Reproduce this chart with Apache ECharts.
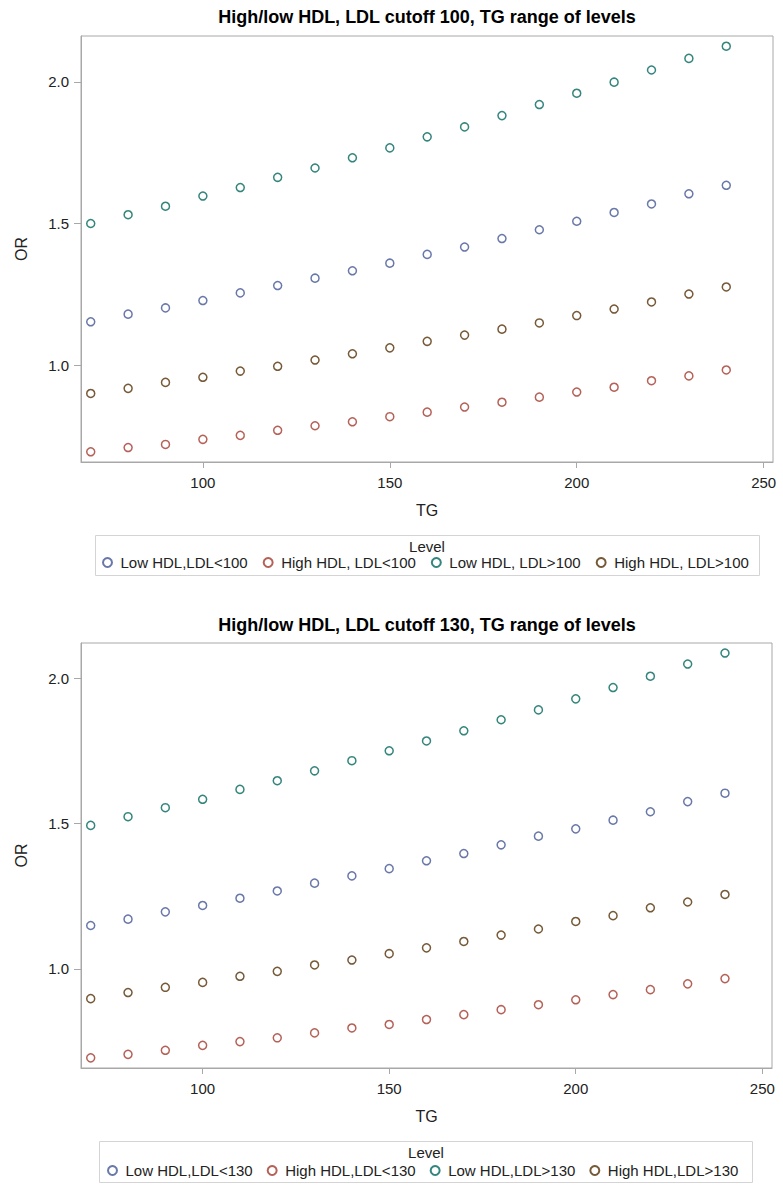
<!DOCTYPE html>
<html>
<head>
<meta charset="utf-8">
<script src="https://cdn.jsdelivr.net/npm/echarts@6/dist/echarts.min.js"></script>
<style>
html,body{margin:0;padding:0;background:#fff;}
#chart{width:783px;height:1186px;}
</style>
</head>
<body>
<div id="chart"></div>
<script>
// ---- data ----
const tg = [70, 80, 90, 100, 110, 120, 130, 140, 150, 160, 170, 180, 190, 200, 210, 220, 230, 240];

// Chart 1: LDL cutoff 100
const lowHdlLdlLt100  = [1.153, 1.180, 1.202, 1.228, 1.255, 1.281, 1.307, 1.333, 1.360, 1.391, 1.417, 1.447, 1.478, 1.508, 1.539, 1.569, 1.605, 1.635];
const highHdlLdlLt100 = [0.694, 0.709, 0.720, 0.738, 0.752, 0.770, 0.786, 0.800, 0.818, 0.834, 0.852, 0.869, 0.887, 0.905, 0.922, 0.945, 0.962, 0.983];
const lowHdlLdlGt100  = [1.500, 1.531, 1.561, 1.597, 1.627, 1.663, 1.696, 1.732, 1.767, 1.806, 1.841, 1.881, 1.920, 1.960, 1.999, 2.042, 2.083, 2.126];
const highHdlLdlGt100 = [0.900, 0.918, 0.939, 0.957, 0.979, 0.996, 1.018, 1.040, 1.061, 1.084, 1.106, 1.127, 1.149, 1.175, 1.198, 1.223, 1.251, 1.276];

// Chart 2: LDL cutoff 130
const lowHdlLdlLt130  = [1.149, 1.171, 1.196, 1.218, 1.243, 1.268, 1.295, 1.320, 1.345, 1.372, 1.397, 1.427, 1.457, 1.482, 1.512, 1.541, 1.576, 1.605];
const highHdlLdlLt130 = [0.693, 0.705, 0.719, 0.736, 0.749, 0.762, 0.779, 0.796, 0.808, 0.825, 0.842, 0.859, 0.876, 0.893, 0.911, 0.928, 0.948, 0.966];
const lowHdlLdlGt130  = [1.494, 1.524, 1.555, 1.584, 1.618, 1.648, 1.682, 1.717, 1.751, 1.785, 1.820, 1.858, 1.892, 1.930, 1.969, 2.008, 2.050, 2.088];
const highHdlLdlGt130 = [0.897, 0.918, 0.936, 0.953, 0.974, 0.991, 1.013, 1.030, 1.052, 1.072, 1.094, 1.116, 1.137, 1.163, 1.183, 1.210, 1.230, 1.256];

const names1 = ['Low HDL,LDL<100', 'High HDL, LDL<100', 'Low HDL, LDL>100', 'High HDL, LDL>100'];
const names2 = ['Low HDL,LDL<130', 'High HDL,LDL<130', 'Low HDL,LDL>130', 'High HDL,LDL>130'];
const titles = ['High/low HDL, LDL cutoff 100, TG range of levels', 'High/low HDL, LDL cutoff 130, TG range of levels'];
const legendTitle = 'Level';
const xName = 'TG';
const yName = 'OR';
const xTicks = [100, 150, 200, 250];
const yTicks = [1.0, 1.5, 2.0];

// ---- styling ----
const colors = ['#445694', '#A23A2E', '#01665E', '#543005'];
const FONT = 'Liberation Sans, Arial, sans-serif';
const TXT = '#222';
const FRAME = '#a8a8a8';

const chart = echarts.init(document.getElementById('chart'), null, {renderer: 'svg'});

function xAxisDef(gi, min, max) {
  return {
    type: 'value', gridIndex: gi, min: min, max: max,
    name: xName, nameLocation: 'middle', nameGap: 40,
    nameTextStyle: {fontFamily: FONT, fontSize: 16, color: TXT},
    axisLine: {show: true, lineStyle: {color: FRAME}},
    axisTick: {show: true, customValues: xTicks, length: 6, lineStyle: {color: FRAME}},
    axisLabel: {customValues: xTicks, fontFamily: FONT, fontSize: 15, color: TXT, margin: 13},
    splitLine: {show: false}
  };
}
function yAxisDef(gi, min, max) {
  return {
    type: 'value', gridIndex: gi, min: min, max: max,
    name: yName, nameLocation: 'middle', nameGap: 52,
    nameTextStyle: {fontFamily: FONT, fontSize: 16, color: TXT},
    axisLine: {show: true, lineStyle: {color: FRAME}},
    axisTick: {show: true, customValues: yTicks, length: 7, lineStyle: {color: FRAME}},
    axisLabel: {customValues: yTicks, fontFamily: FONT, fontSize: 15, color: TXT, margin: 12,
      formatter: v => v.toFixed(1)},
    splitLine: {show: false}
  };
}
function sc(name, vals, ci, gi) {
  return {
    type: 'scatter', name: name, xAxisIndex: gi, yAxisIndex: gi,
    symbol: 'circle', symbolSize: 8,
    itemStyle: {color: '#fff', borderColor: colors[ci], borderWidth: 1.5},
    emphasis: {disabled: true},
    data: tg.map((t, i) => [t, vals[i]])
  };
}

const option = {
  animation: false,
  backgroundColor: '#fff',
  grid: [
    {left: 81, top: 36, width: 692, height: 426, show: true, borderColor: FRAME, borderWidth: 1, backgroundColor: '#fff'},
    {left: 81, top: 643, width: 691, height: 425, show: true, borderColor: FRAME, borderWidth: 1, backgroundColor: '#fff'}
  ],
  xAxis: [xAxisDef(0, 67.4, 252.5), xAxisDef(1, 67.4, 252.6)],
  yAxis: [yAxisDef(0, 0.658, 2.162), yAxisDef(1, 0.658, 2.1225)],
  legend: [
    {data: names1, left: 102, top: 555, orient: 'horizontal', padding: 0, itemGap: 15,
      itemWidth: 16, itemHeight: 9, textStyle: {fontFamily: FONT, fontSize: 15, color: TXT}, selectedMode: false},
    {data: names2, left: 107, top: 1163, orient: 'horizontal', padding: 0, itemGap: 14,
      itemWidth: 16, itemHeight: 9, textStyle: {fontFamily: FONT, fontSize: 15, color: TXT}, selectedMode: false}
  ],
  graphic: [
    {type: 'text', x: 427, y: 17, style: {text: titles[0], fill: '#000', font: 'bold 18px ' + FONT, textAlign: 'center', textVerticalAlign: 'middle'}},
    {type: 'text', x: 427, y: 625, style: {text: titles[1], fill: '#000', font: 'bold 18px ' + FONT, textAlign: 'center', textVerticalAlign: 'middle'}},
    {type: 'rect', shape: {x: 95.5, y: 535.5, width: 664, height: 40}, style: {fill: 'none', stroke: '#d4d4d4', lineWidth: 1}},
    {type: 'text', x: 427, y: 546, style: {text: legendTitle, fill: TXT, font: '15px ' + FONT, textAlign: 'center', textVerticalAlign: 'middle'}},
    {type: 'rect', shape: {x: 99.5, y: 1141.5, width: 653, height: 41}, style: {fill: 'none', stroke: '#d4d4d4', lineWidth: 1}},
    {type: 'text', x: 426, y: 1152, style: {text: legendTitle, fill: TXT, font: '15px ' + FONT, textAlign: 'center', textVerticalAlign: 'middle'}}
  ],
  series: [
    sc(names1[0], lowHdlLdlLt100, 0, 0),
    sc(names1[1], highHdlLdlLt100, 1, 0),
    sc(names1[2], lowHdlLdlGt100, 2, 0),
    sc(names1[3], highHdlLdlGt100, 3, 0),
    sc(names2[0], lowHdlLdlLt130, 0, 1),
    sc(names2[1], highHdlLdlLt130, 1, 1),
    sc(names2[2], lowHdlLdlGt130, 2, 1),
    sc(names2[3], highHdlLdlGt130, 3, 1)
  ]
};
chart.setOption(option);
</script>
</body>
</html>
